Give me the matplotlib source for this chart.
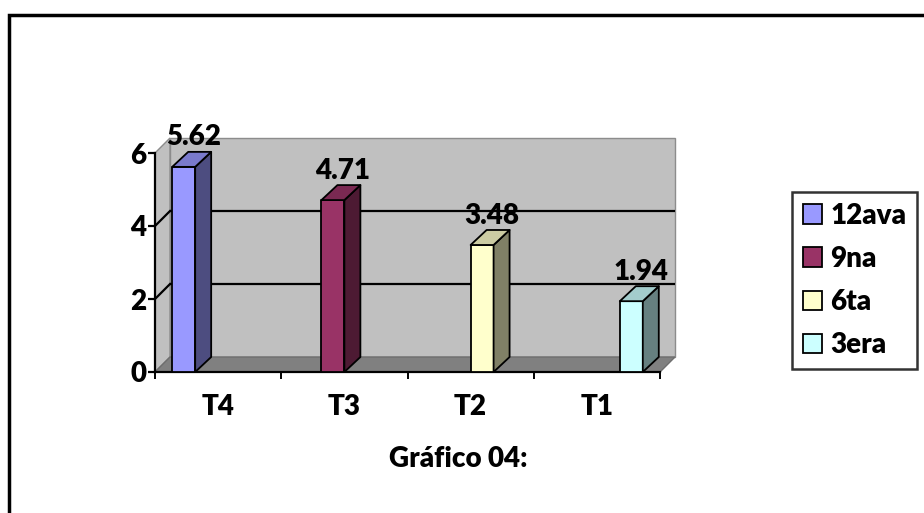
import matplotlib
matplotlib.use("Agg")
import matplotlib.pyplot as plt
from matplotlib.patches import Polygon, Patch, Rectangle
from matplotlib.colors import to_rgb

plt.rcParams["font.family"] = ["Lato", "DejaVu Sans"]
WEIGHT = 800
FS = 20

categories = ["T4", "T3", "T2", "T1"]
series = ["12ava", "9na", "6ta", "3era"]
values = [5.62, 4.71, 3.48, 1.94]      # one series per category (diagonal)
series_colors = ["#9999FF", "#993366", "#FFFFCC", "#CCFFFF"]
y_ticks = [0, 2, 4, 6]
title = "Gráfico 04:"

W, H = 924, 513
fig = plt.figure(figsize=(W / 100, H / 100), dpi=100)

# front plane of the 3-D box, in pixels from the top-left corner
x0_px, x1_px, y0_px, y1_px = 155, 660, 372, 153
ax = fig.add_axes([x0_px / W, 1 - y0_px / H, (x1_px - x0_px) / W, (y0_px - y1_px) / H])
n_cat = len(categories)
ymax = 6
ax.set_xlim(0, n_cat)
ax.set_ylim(0, ymax)
ax.patch.set_visible(False)

# depth offsets (pixels) turned into data units
px_x = (x1_px - x0_px) / n_cat
px_y = (y0_px - y1_px) / ymax
wall_dx, wall_dy = 15 / px_x, 15 / px_y
bar_dx, bar_dy = 16 / px_x, 15 / px_y

wall_c, floor_c, edge_c = "#C0C0C0", "#808080", "#8C8C8C"

# back wall, side wall, floor
ax.add_patch(Polygon([(wall_dx, wall_dy), (n_cat + wall_dx, wall_dy),
                      (n_cat + wall_dx, ymax + wall_dy), (wall_dx, ymax + wall_dy)],
                     closed=True, fc=wall_c, ec=edge_c, lw=1, clip_on=False, zorder=1))
ax.add_patch(Polygon([(0, 0), (wall_dx, wall_dy), (wall_dx, ymax + wall_dy), (0, ymax)],
                     closed=True, fc=wall_c, ec=edge_c, lw=1, clip_on=False, zorder=1))
ax.add_patch(Polygon([(0, 0), (n_cat, 0), (n_cat + wall_dx, wall_dy), (wall_dx, wall_dy)],
                     closed=True, fc=floor_c, ec="#6E6E6E", lw=1, clip_on=False, zorder=2))

# gridlines on back wall + side wall
for v in y_ticks[1:-1]:
    ax.plot([wall_dx, n_cat + wall_dx], [v + wall_dy] * 2, color="black", lw=1.6,
            clip_on=False, zorder=2, solid_capstyle="butt")
    ax.plot([0, wall_dx], [v, v + wall_dy], color="black", lw=1.6, clip_on=False, zorder=2)

# clustered 3-D columns
bw = 1 / 5.5
n_ser = len(series)


def shade(c, f):
    r, g, b = to_rgb(c)
    return (r * f, g * f, b * f)


for i, (val, col) in enumerate(zip(values, series_colors)):
    xc = i + 0.5 + (i - (n_ser - 1) / 2) * bw
    xl, xr = xc - bw / 2, xc + bw / 2
    kw = dict(closed=True, ec="black", lw=1.3, clip_on=False, zorder=5, joinstyle="round")
    ax.add_patch(Polygon([(xl, 0), (xr, 0), (xr, val), (xl, val)], fc=col, **kw))
    ax.add_patch(Polygon([(xr, 0), (xr + bar_dx, bar_dy), (xr + bar_dx, val + bar_dy), (xr, val)],
                         fc=shade(col, 0.5), **kw))
    ax.add_patch(Polygon([(xl, val), (xr, val), (xr + bar_dx, val + bar_dy), (xl + bar_dx, val + bar_dy)],
                         fc=shade(col, 0.8), **kw))
    ax.annotate(f"{val:.2f}", (xc + bar_dx * 0.6, val + bar_dy), xytext=(0, 1),
                textcoords="offset points", ha="center", va="bottom",
                fontsize=FS, fontweight=WEIGHT, zorder=6, annotation_clip=False)

# axes lines and ticks
for s in ("top", "right"):
    ax.spines[s].set_visible(False)
for s in ("left", "bottom"):
    ax.spines[s].set_linewidth(1.6)
    ax.spines[s].set_zorder(4)
ax.set_yticks(y_ticks)
ax.set_yticklabels([str(t) for t in y_ticks], fontsize=FS, fontweight=WEIGHT)
ax.tick_params(axis="y", length=5, width=1.6, direction="out", pad=1)
ax.set_xticks(range(n_cat + 1))
ax.set_xticklabels([])
ax.set_xticks([i + 0.5 for i in range(n_cat)], minor=True)
ax.set_xticklabels(categories, minor=True, fontsize=FS, fontweight=WEIGHT)
ax.tick_params(axis="x", which="major", length=5, width=1.4, direction="out")
ax.tick_params(axis="x", which="minor", length=0, pad=16)

fig.text(458 / W, 1 - 459 / H, title, ha="center", va="center", fontsize=FS, fontweight=WEIGHT)

handles = [Patch(fc=c, ec="black", lw=1.3) for c in series_colors]
leg = fig.legend(handles, series, loc="upper left", bbox_to_anchor=(792 / W, 1 - 192 / H),
                 frameon=True, fancybox=False, edgecolor="black",
                 prop=dict(family=["Lato", "DejaVu Sans"], size=FS, weight=WEIGHT),
                 handlelength=0.7, handleheight=0.7, handletextpad=0.3,
                 labelspacing=0.62, borderpad=0.38, borderaxespad=0)
leg.get_frame().set_linewidth(1.8)

# chart-area border (only top and left edges fall inside the canvas)
fig.patches.append(Rectangle((9 / W, -0.2), 1.2, 1.2 - 15 / H, transform=fig.transFigure,
                             fill=False, ec="black", lw=2.5))

fig.savefig("out.png", dpi=100)
